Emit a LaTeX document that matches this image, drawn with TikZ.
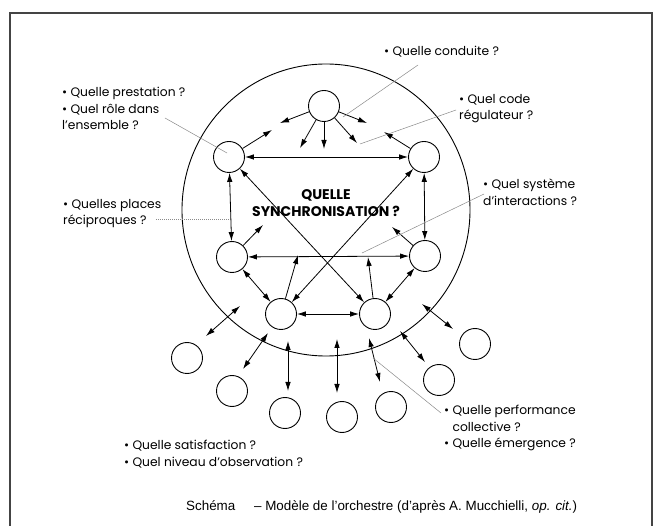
\documentclass[tikz,border=0pt]{standalone}
\usepackage{fontspec}
\setmainfont{Poppins}
\newfontfamily\captionfont{Liberation Sans}
\usepackage{tikz}
\usetikzlibrary{arrows.meta}
\definecolor{framegrey}{HTML}{444444}
\definecolor{leadergrey}{HTML}{8A8A8A}
\tikzset{
  player/.style     = {circle, draw=black, line width=0.9pt, minimum size=31pt,
                       inner sep=0pt},
  both ways/.style  = {{Latex[length=9pt,width=5.5pt]}-{Latex[length=9pt,width=5.5pt]},
                       line width=0.8pt},
  one way/.style    = {-{Latex[length=9pt,width=5.5pt]}, line width=0.8pt},
  leader/.style     = {leadergrey, line width=0.5pt},
  dotted leader/.style = {leader, dash pattern=on 1pt off 1pt},
  question/.style   = {anchor=north west, align=left, inner sep=0pt,
                       font=\fontsize{12.3}{16.5}\selectfont},
}

\begin{document}
\begin{tikzpicture}[x=1pt, y=-1pt]
  \useasboundingbox (0,0) rectangle (656,526);
  % frame
  \draw[framegrey, line width=2pt] (10,526) -- (10,13) -- (652,13) -- (652,526);

  % the orchestra
  \draw[line width=0.9pt] (326,210) ellipse [x radius=144, y radius=146];

  \node[player] (top) at (324,106) {};
  \node[player] (ul)  at (229,157) {};
  \node[player] (ur)  at (424,157) {};
  \node[player] (ml)  at (232,257) {};
  \node[player] (mr)  at (425,256) {};
  \node[player] (bl)  at (281,314) {};
  \node[player] (br)  at (375,314) {};

  % the audience
  \foreach \i/\x/\y in {1/187/358, 2/232/391, 3/285/413, 4/342/417,
                        5/391/407, 6/439/380, 7/475/344}
    \node[player] (aud\i) at (\x,\y) {};

  % free ends of the single arrows
  \foreach \n/\x/\y in {ta/280/123, tb/367/123, tc/300/148, td/324/149,
                        te/357/143, ua/272/130, ub/384/132, ma/263/225,
                        mb/392/227, ba/298/255, bb/368/257}
    \coordinate (\n) at (\x,\y);

  \draw[one way] (top) -- (ta);
  \draw[one way] (top) -- (tb);
  \draw[one way] (top) -- (tc);
  \draw[one way] (top) -- (td);
  \draw[one way] (top) -- (te);
  \draw[one way] (ul) -- (ua);
  \draw[one way] (ur) -- (ub);
  \draw[one way] (ml) -- (ma);
  \draw[one way] (mr) -- (mb);
  \draw[one way] (bl) -- (ba);
  \draw[one way] (br) -- (bb);

  % exchanges inside
  \draw[both ways] (ul) -- (ur);
  \draw[both ways] (ul) -- (ml);
  \draw[both ways] (ur) -- (mr);
  \draw[both ways] (ml) -- (mr);
  \draw[both ways] (ul) -- (br);
  \draw[both ways] (ur) -- (bl);
  \draw[both ways] (ml) -- (bl);
  \draw[both ways] (mr) -- (br);
  \draw[both ways] (bl) -- (br);

  % exchanges with the audience
  \foreach \i/\xa/\ya/\xb/\yb in {1/240/306/206/336, 2/268/333/243/369,
                                  3/288/341/288/391, 4/337/339/337/393,
                                  5/369/338/380/382, 6/400/331/425/362,
                                  7/422/304/453/329}{
    \coordinate (in\i) at (\xa,\ya);
    \coordinate (out\i) at (\xb,\yb);
    \draw[both ways] (in\i) -- (out\i);
  }

  \node[font=\bfseries\fontsize{14}{17.5}\selectfont, align=center] (sync)
    at (326,203) {QUELLE\\SYNCHRONISATION~?};

  % questions
  \node[question] (qconduite) at (384,46) {\textbullet~Quelle conduite~?};
  \node[question] (qcode) at (459,94) {\textbullet~Quel code\\régulateur~?};
  \node[question] (qrole) at (62,87)
    {\textbullet~Quelle prestation~?\\\textbullet~Quel rôle dans\\l’ensemble~?};
  \node[question] (qplaces) at (63,199) {\textbullet~Quelles places\\réciproques~?};
  \node[question] (qsysteme) at (483,179) {\textbullet~Quel système\\d’interactions~?};
  \node[question] (qperf) at (444,405)
    {\textbullet~Quelle performance\\\phantom{\textbullet~}collective~?\\\textbullet~Quelle émergence~?};
  \node[question] (qsatis) at (124,440)
    {\textbullet~Quelle satisfaction~?\\\textbullet~Quel niveau d’observation~?};

  % leaders
  \coordinate (lconduite) at (343,117);
  \coordinate (lcode) at (360,144);
  \coordinate (lrole) at (227,153);
  \coordinate (lplaces) at (229,219);
  \coordinate (lsysteme) at (362,253);
  \coordinate (lperf) at (373,358);
  \draw[leader] (418,65) coordinate (sconduite) -- (lconduite);
  \draw[leader] (456,110) coordinate (scode) -- (lcode);
  \draw[leader] (165,118) coordinate (srole) -- (lrole);
  \draw[dotted leader] (156,219) coordinate (splaces) -- (lplaces);
  \draw[leader] (484,194) coordinate (ssysteme) -- (lsysteme);
  \draw[leader] (441,413) coordinate (sperf) -- (lperf);

  \node[anchor=north west, inner sep=0pt, font=\captionfont\fontsize{13.4}{15}\selectfont]
    (caption) at (186,500)
    {Schéma\hspace{1.4em}– Modèle de l’orchestre (d’après A. Mucchielli, \textit{op. cit.})};
\end{tikzpicture}
\end{document}
